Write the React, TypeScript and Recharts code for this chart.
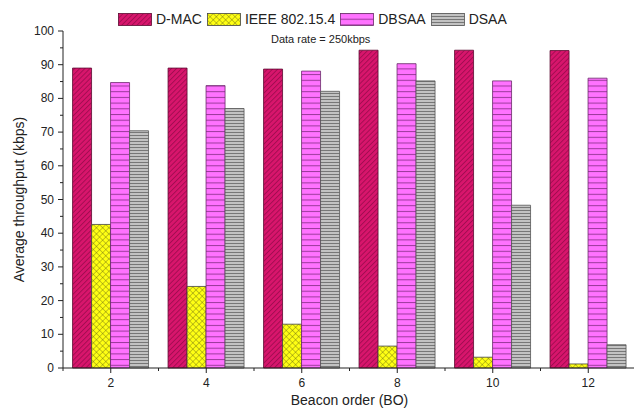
import React from 'react';
import { BarChart, Bar, XAxis, YAxis } from 'recharts';

const categories = ['2', '4', '6', '8', '10', '12'];
const dmac = [89.0, 89.0, 88.7, 94.3, 94.3, 94.2];
const ieee = [42.6, 24.2, 13.0, 6.5, 3.2, 1.2];
const dbsaa = [84.7, 83.8, 88.1, 90.3, 85.2, 86.0];
const dsaa = [70.4, 77.0, 82.1, 85.2, 48.3, 6.9];
const seriesNames = ['D-MAC', 'IEEE 802.15.4', 'DBSAA', 'DSAA'];
const seriesKeys = ['dmac', 'ieee', 'dbsaa', 'dsaa'];
const yTicks = [0, 5, 10, 15, 20, 25, 30, 35, 40, 45, 50, 55, 60, 65, 70, 75, 80, 85, 90, 95, 100];

const data = categories.map((c, i) => ({
  bo: c,
  dmac: dmac[i],
  ieee: ieee[i],
  dbsaa: dbsaa[i],
  dsaa: dsaa[i],
}));

const FONT = '"Liberation Sans", Arial, Helvetica, sans-serif';
const INK = '#222';

const strokes: Record<string, string> = {
  dmac: '#5a0a30',
  ieee: '#444',
  dbsaa: '#6a2a6a',
  dsaa: '#555',
};

const Patterns = ({ p }: { p: string }) => (
  <defs>
    <pattern id={`${p}dmac`} patternUnits="userSpaceOnUse" width="3.6" height="3.6" patternTransform="rotate(45)">
      <rect width="3.6" height="3.6" fill="#D8156C" />
      <line x1="0.5" y1="0" x2="0.5" y2="3.6" stroke="#A00C50" strokeWidth="0.9" />
    </pattern>
    <pattern id={`${p}ieee`} patternUnits="userSpaceOnUse" width="4.4" height="4.4" patternTransform="rotate(45)">
      <rect width="4.4" height="4.4" fill="#FFFF14" />
      <line x1="0" y1="0" x2="0" y2="4.4" stroke="#5a5a10" strokeWidth="0.7" />
      <line x1="0" y1="0" x2="4.4" y2="0" stroke="#5a5a10" strokeWidth="0.7" />
    </pattern>
    <pattern id={`${p}dbsaa`} patternUnits="userSpaceOnUse" width="10" height="5.7">
      <rect width="10" height="5.7" fill="#FF72FF" />
      <line x1="0" y1="0.5" x2="10" y2="0.5" stroke="#9A3A9A" strokeWidth="1" />
    </pattern>
    <pattern id={`${p}dsaa`} patternUnits="userSpaceOnUse" width="10" height="3">
      <rect width="10" height="3" fill="#C2C2C2" />
      <line x1="0" y1="0.5" x2="10" y2="0.5" stroke="#777" strokeWidth="1" />
    </pattern>
  </defs>
);

const XTick = (props: any) => {
  const { x, y, payload, index, visibleTicksCount } = props;
  const off = payload && payload.offset ? payload.offset : 47.8;
  const last = (visibleTicksCount ?? categories.length) - 1;
  return (
    <g>
      <line x1={x} y1={y} x2={x} y2={y + 5} stroke={INK} strokeWidth={1} />
      <line x1={x - off} y1={y} x2={x - off} y2={y + 3} stroke={INK} strokeWidth={1} />
      {index === last && <line x1={x + off} y1={y} x2={x + off} y2={y + 3} stroke={INK} strokeWidth={1} />}
      <text x={x} y={y + 19} textAnchor="middle" fontSize={12} fill={INK} fontFamily={FONT}>
        {payload.value}
      </text>
    </g>
  );
};

const YTick = (props: any) => {
  const { x, y, payload } = props;
  const major = payload.value % 10 === 0;
  return (
    <g>
      <line x1={x - (major ? 5 : 3)} y1={y} x2={x} y2={y} stroke={INK} strokeWidth={1} />
      {major && (
        <text x={x - 9} y={y + 4} textAnchor="end" fontSize={12} fill={INK} fontFamily={FONT}>
          {payload.value}
        </text>
      )}
    </g>
  );
};

const YLabel = (props: any) => {
  const vb = props.viewBox || { x: 0, y: 31, width: 63, height: 337 };
  const cx = vb.x + 19;
  const cy = vb.y + vb.height / 2;
  return (
    <text
      x={cx}
      y={cy}
      transform={`rotate(-90 ${cx} ${cy})`}
      textAnchor="middle"
      dominantBaseline="central"
      fontSize={14}
      fill={INK}
      fontFamily={FONT}
    >
      Average throughput (kbps)
    </text>
  );
};

const XLabel = (props: any) => {
  const vb = props.viewBox || { x: 63, y: 368, width: 573, height: 47 };
  const cx = vb.x + vb.width / 2;
  const cy = vb.y + 32;
  return (
    <text x={cx} y={cy} textAnchor="middle" dominantBaseline="central" fontSize={14} fill={INK} fontFamily={FONT}>
      Beacon order (BO)
    </text>
  );
};

export default function App() {
  return (
    <div
      style={{
        position: 'absolute',
        left: 0,
        top: 0,
        width: 634,
        height: 415,
        overflow: 'hidden',
        background: '#fff',
        fontFamily: FONT,
      }}
    >
      <BarChart
        width={640}
        height={415}
        data={data}
        margin={{ top: 31, right: 4, bottom: 0, left: 0 }}
        barCategoryGap="10%"
        barGap={0}
      >
        <Patterns p="c-" />
        <XAxis
          dataKey="bo"
          interval={0}
          height={47}
          tickSize={0}
          tickMargin={0}
          tick={<XTick />}
          axisLine={{ stroke: INK, strokeWidth: 1 }}
          label={<XLabel />}
        />
        <YAxis
          type="number"
          domain={[0, 100]}
          ticks={yTicks}
          interval={0}
          width={63}
          tickSize={0}
          tickMargin={0}
          tick={<YTick />}
          axisLine={{ stroke: INK, strokeWidth: 1 }}
          label={<YLabel />}
        />
        {seriesKeys.map((k) => (
          <Bar
            key={k}
            dataKey={k}
            fill={`url(#c-${k})`}
            stroke={strokes[k]}
            strokeWidth={0.8}
            isAnimationActive={false}
          />
        ))}
      </BarChart>

      <div
        style={{
          position: 'absolute',
          left: 118,
          top: 11,
          display: 'flex',
          alignItems: 'center',
          fontSize: 14,
          color: INK,
          lineHeight: '16px',
        }}
      >
        {seriesKeys.map((k, i) => (
          <div key={k} style={{ display: 'flex', alignItems: 'center', marginRight: 5 }}>
            <svg width={34} height={13} style={{ display: 'block' }}>
              <Patterns p={`l${i}-`} />
              <rect
                x={0.5}
                y={0.5}
                width={33}
                height={12}
                fill={`url(#l${i}-${k})`}
                stroke={strokes[k]}
                strokeWidth={0.8}
              />
            </svg>
            <span style={{ marginLeft: 4, whiteSpace: 'nowrap' }}>{seriesNames[i]}</span>
          </div>
        ))}
      </div>
      <div
        style={{
          position: 'absolute',
          left: 271,
          top: 33,
          fontSize: 11,
          color: INK,
          whiteSpace: 'nowrap',
        }}
      >
        Data rate = 250kbps
      </div>
    </div>
  );
}
